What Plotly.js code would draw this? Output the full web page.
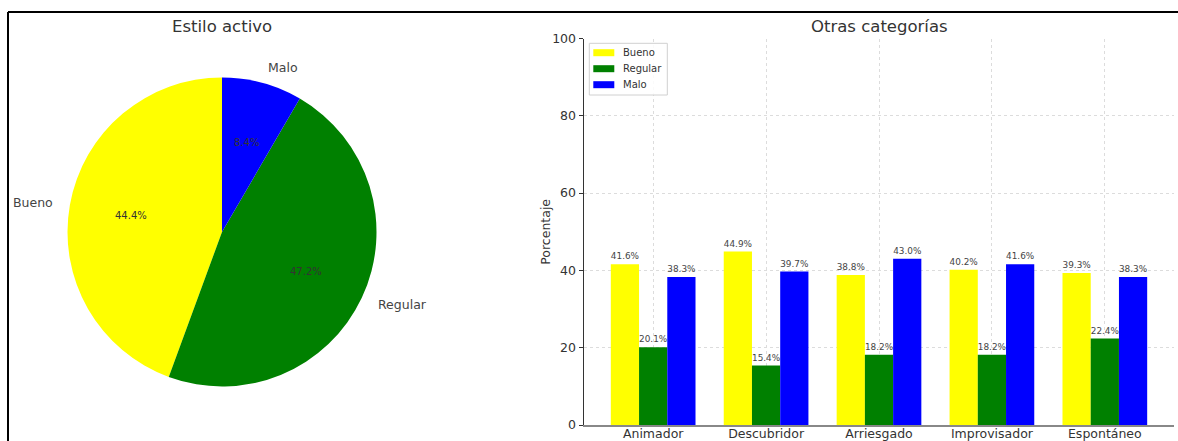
<!DOCTYPE html>
<html>
<head>
<meta charset="utf-8">
<script src="https://cdn.plot.ly/plotly-3.0.1.min.js"></script>
<style>html,body{margin:0;padding:0;background:#fff;}#chart{width:1178px;height:441px;}</style>
</head>
<body>
<div id="chart"></div>
<script>
// ---- data ----
var pieTitle = "Estilo activo";
var pieLabels = ["Bueno", "Regular", "Malo"];
var pieValues = [44.4, 47.2, 8.4];
var pieColors = ["#ffff00", "#008000", "#0000ff"];

var barTitle = "Otras categorías";
var categories = ["Animador", "Descubridor", "Arriesgado", "Improvisador", "Espontáneo"];
var bueno = [41.6, 44.9, 38.8, 40.2, 39.3];
var regular = [20.1, 15.4, 18.2, 18.2, 22.4];
var malo = [38.3, 39.7, 43.0, 41.6, 38.3];
var seriesNames = ["Bueno", "Regular", "Malo"];
var barColors = ["#ffff00", "#008000", "#0000ff"];
var yTickVals = [0, 20, 40, 60, 80, 100];
var yLabel = "Porcentaje";

// ---- layout geometry ----
var W = 1178, H = 441;
var FONT = "DejaVu Sans, sans-serif";
var pieCx = 222, pieCy = 232, pieR = 154.5; // px (from top)
var pieDomX = [(pieCx - pieR) / W, (pieCx + pieR) / W];
var pieDomY = [(H - pieCy - pieR) / H, (H - pieCy + pieR) / H];

var plotL = 584, plotR = 1174, plotT = 38.5, plotB = 425;

var total = pieValues.reduce(function (a, b) { return a + b; }, 0);

var traces = [];
traces.push({
  type: "pie",
  labels: pieLabels,
  values: pieValues,
  sort: false,
  direction: "counterclockwise",
  rotation: -360 * pieValues[0] / total,
  marker: {colors: pieColors, line: {width: 0}},
  textinfo: "none",
  hoverinfo: "none",
  showlegend: false,
  domain: {x: pieDomX, y: pieDomY}
});

var barData = [bueno, regular, malo];
for (var s = 0; s < 3; s++) {
  traces.push({
    type: "bar",
    name: seriesNames[s],
    x: categories,
    y: barData[s],
    marker: {color: barColors[s], line: {width: 0}},
    text: barData[s].map(function (v) { return v.toFixed(1) + "%"; }),
    textposition: "outside",
    cliponaxis: false,
    showlegend: false,
    textfont: {family: FONT, size: 9.5, color: "#444"},
    xaxis: "x", yaxis: "y"
  });
}

// ---- annotations ----
var ann = [];
function px2paper(x, y) { return [x / W, (H - y) / H]; }
var cum = 0;
for (var i = 0; i < pieValues.length; i++) {
  var mid = (90 + 360 * (cum + pieValues[i] / 2) / total) * Math.PI / 180;
  cum += pieValues[i];
  var c = Math.cos(mid), sn = Math.sin(mid);
  var lp = px2paper(pieCx + 1.1 * pieR * c, pieCy - 1.1 * pieR * sn);
  ann.push({xref: "paper", yref: "paper", x: lp[0], y: lp[1], text: pieLabels[i],
    showarrow: false, xanchor: c > 0 ? "left" : "right", yanchor: "middle",
    font: {family: FONT, size: 12.5, color: "#444"}});
  var pp = px2paper(pieCx + 0.6 * pieR * c, pieCy - 0.6 * pieR * sn);
  ann.push({xref: "paper", yref: "paper", x: pp[0], y: pp[1],
    text: (100 * pieValues[i] / total).toFixed(1) + "%",
    showarrow: false, xanchor: "center", yanchor: "middle",
    font: {family: FONT, size: 10, color: "#333"}});
}
var t1 = px2paper(pieCx, 27);
ann.push({xref: "paper", yref: "paper", x: t1[0], y: t1[1], text: pieTitle, showarrow: false,
  xanchor: "center", yanchor: "middle", font: {family: FONT, size: 16.5, color: "#333"}});
var t2 = px2paper((plotL + plotR) / 2, 27);
ann.push({xref: "paper", yref: "paper", x: t2[0], y: t2[1], text: barTitle, showarrow: false,
  xanchor: "center", yanchor: "middle", font: {family: FONT, size: 16.5, color: "#333"}});
// y-axis title placed like matplotlib's
var yt = px2paper(546, (plotT + plotB) / 2);
ann.push({xref: "paper", yref: "paper", x: yt[0], y: yt[1], text: yLabel, showarrow: false,
  textangle: -90, xanchor: "center", yanchor: "middle",
  font: {family: FONT, size: 12.5, color: "#333"}});

var shapes = [
  {type: "line", xref: "paper", yref: "paper", x0: 8 / W, x1: 1, y0: (H - 12) / H, y1: (H - 12) / H,
   line: {color: "#000", width: 2}},
  {type: "line", xref: "paper", yref: "paper", x0: 8 / W, x1: 8 / W, y0: 0, y1: (H - 12) / H,
   line: {color: "#000", width: 2}}
];

// ---- manual legend (matplotlib-like compact layout) ----
var legL = 589.3, legR = 667.3, legT = 43.3, legB = 95;
var p0 = px2paper(legL, legT), p1 = px2paper(legR, legB);
shapes.push({type: "rect", xref: "paper", yref: "paper", x0: p0[0], y0: p1[1], x1: p1[0], y1: p0[1],
  fillcolor: "rgba(255,255,255,0.85)", line: {color: "#d0d0d0", width: 1}, layer: "above"});
var rowY0 = 52.7, rowStep = 16;
for (var k = 0; k < seriesNames.length; k++) {
  var ry = rowY0 + k * rowStep;
  var a = px2paper(593.3, ry - 3.5), b = px2paper(614.3, ry + 3.5);
  shapes.push({type: "rect", xref: "paper", yref: "paper", x0: a[0], x1: b[0], y0: b[1], y1: a[1],
    fillcolor: barColors[k], line: {width: 0}, layer: "above"});
  var tp = px2paper(622.5, ry);
  ann.push({xref: "paper", yref: "paper", x: tp[0], y: tp[1], text: seriesNames[k], showarrow: false,
    xanchor: "left", yanchor: "middle", xshift: -2, font: {family: FONT, size: 10, color: "#333"}});
}

var layout = {
  width: W, height: H,
  margin: {l: 0, r: 0, t: 0, b: 0},
  paper_bgcolor: "#fff", plot_bgcolor: "#fff",
  font: {family: FONT, color: "#333"},
  barmode: "group",
  bargap: 0.25, bargroupgap: 0,
  showlegend: false,
  xaxis: {domain: [plotL / W, plotR / W], range: [-0.6125, 4.6125], type: "category",
    showgrid: true, gridcolor: "#dcdcdc", griddash: "dot", gridwidth: 1,
    showline: true, linecolor: "#888", linewidth: 2,
    ticks: "", ticklabelstandoff: -4,
    tickfont: {family: FONT, size: 12.5, color: "#333"}, fixedrange: true},
  yaxis: {domain: [(H - plotB) / H, (H - plotT) / H], range: [0, 100],
    tickvals: yTickVals, ticktext: yTickVals.map(String),
    showgrid: true, gridcolor: "#dcdcdc", griddash: "dot", gridwidth: 1,
    zeroline: false, showline: true, linecolor: "#333", linewidth: 1.5,
    ticks: "outside", ticklen: 4, tickcolor: "#333", tickwidth: 1,
    tickfont: {family: FONT, size: 12.5, color: "#333"}},
  annotations: ann,
  shapes: shapes
};

Plotly.newPlot("chart", traces, layout, {displayModeBar: false, staticPlot: true});
</script>
</body>
</html>
